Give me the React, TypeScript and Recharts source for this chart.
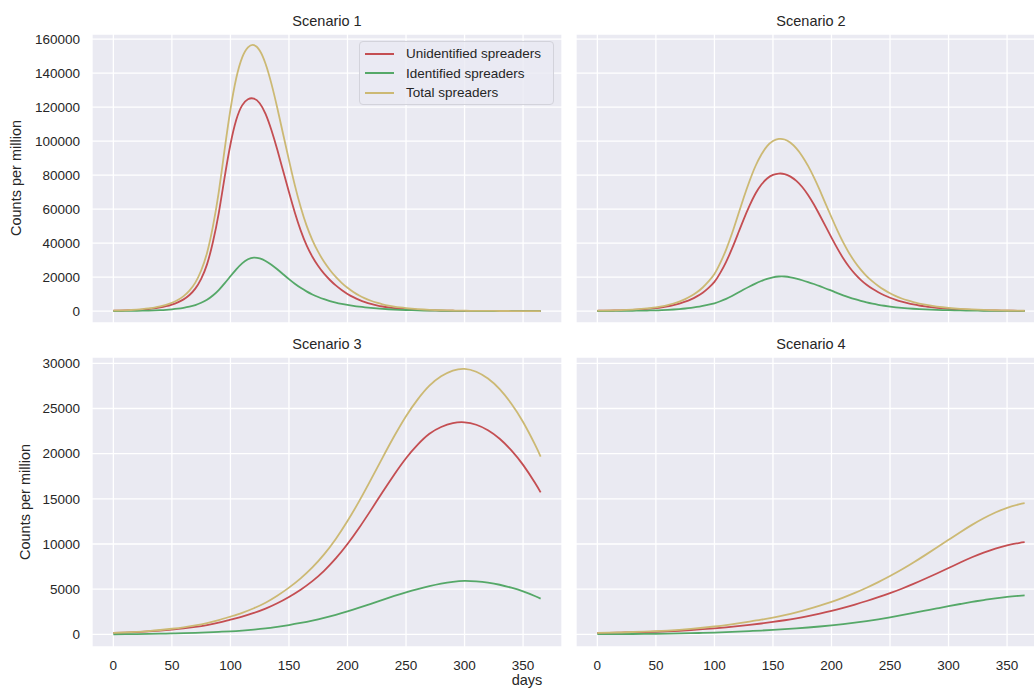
import React from 'react';
import { LineChart, Line, XAxis, YAxis, CartesianGrid, Legend } from 'recharts';

// day grids (5-day steps for the sharp peaks, 10-day steps for the slow ones)
const days5 = [
  0, 5, 10, 15, 20, 25, 30, 35, 40, 45, 50, 55, 60, 65, 70, 75, 80, 85, 90, 95,
  100, 105, 110, 115, 120, 125, 130, 135, 140, 145, 150, 155, 160, 165, 170, 175, 180, 185, 190, 195,
  200, 205, 210, 215, 220, 225, 230, 235, 240, 245, 250, 255, 260, 265, 270, 275, 280, 285, 290, 295,
  300, 305, 310, 315, 320, 325, 330, 335, 340, 345, 350, 355, 360, 365,
];
const days10 = [
  0, 10, 20, 30, 40, 50, 60, 70, 80, 90, 100, 110, 120, 130, 140, 150, 160, 170, 180, 190,
  200, 210, 220, 230, 240, 250, 260, 270, 280, 290, 300, 310, 320, 330, 340, 350, 360, 365,
];

const xTicks = [0, 50, 100, 150, 200, 250, 300, 350];
const yTicksTop = [0, 20000, 40000, 60000, 80000, 100000, 120000, 140000, 160000];
const yTicksBottom = [0, 5000, 10000, 15000, 20000, 25000, 30000];
const seriesNames = ['Unidentified spreaders', 'Identified spreaders', 'Total spreaders'];

// Scenario 1
const s1Unidentified = [
  220, 290, 390, 520, 690, 920, 1230, 1640, 2180, 2900,
  3870, 5150, 6900, 9500, 13200, 19000, 27500, 40500, 57500, 78500,
  98000, 112500, 121000, 124600, 125000, 122300, 116000, 106500, 95000, 82500,
  70000, 58000, 47500, 38800, 32000, 26500, 22000, 18300, 15100, 12400,
  10100, 8200, 6600, 5300, 4250, 3400, 2700, 2150, 1720, 1380,
  1100, 880, 710, 570, 460, 370, 300, 240, 200, 160,
  130, 105, 85, 70, 56, 46, 37, 30, 24, 20,
  16, 13, 11, 9,
];
const s1Identified = [
  40, 60, 85, 120, 165, 225, 310, 420, 570, 770,
  1050, 1420, 1920, 2600, 3550, 4900, 6700, 9200, 12400, 16300,
  20500, 24600, 28100, 30500, 31500, 31000, 29500, 27300, 24600, 21700,
  18800, 16100, 13700, 11600, 9800, 8300, 7000, 5900, 5000, 4250,
  3600, 3050, 2580, 2180, 1840, 1550, 1300, 1090, 910, 760,
  635, 530, 440, 365, 300, 250, 205, 170, 140, 115,
  95, 78, 64, 53, 43, 35, 29, 24, 20, 16,
  13, 11, 9, 7,
];
const s1Total = [
  260, 350, 475, 640, 855, 1145, 1540, 2060, 2750, 3670,
  4920, 6570, 8820, 12100, 16750, 23900, 34200, 49700, 69900, 94800,
  118500, 137100, 149100, 155100, 156500, 153300, 145500, 133800, 119600, 104200,
  88800, 74100, 61200, 50400, 41800, 34800, 29000, 24200, 20100, 16650,
  13700, 11250, 9180, 7480, 6090, 4950, 4000, 3240, 2630, 2140,
  1735, 1410, 1150, 935, 760, 620, 505, 410, 340, 275,
  225, 183, 149, 123, 99, 81, 66, 54, 44, 36,
  29, 24, 20, 16,
];

// Scenario 2
const s2Unidentified = [
  180, 230, 290, 370, 460, 580, 730, 910, 1140, 1430,
  1800, 2250, 2820, 3530, 4420, 5530, 6900, 8650, 10800, 13700,
  17200, 22500, 29000, 36700, 45300, 54000, 62000, 69000, 74300, 78000,
  80100, 80900, 80600, 79100, 76600, 73000, 68300, 62700, 56400, 49800,
  43200, 36900, 31100, 26100, 21900, 18400, 15500, 13100, 11050, 9330,
  7850, 6600, 5550, 4660, 3920, 3290, 2760, 2320, 1950, 1640,
  1380, 1160, 975, 820, 690, 580, 485, 408, 343, 288,
  242, 203, 171, 143,
];
const s2Identified = [
  45, 57, 72, 92, 117, 148, 188, 240, 300, 380,
  450, 580, 740, 940, 1200, 1520, 1930, 2450, 3100, 3800,
  4600, 5800, 7200, 8900, 10800, 12700, 14500, 16200, 17700, 19000,
  19900, 20350, 20350, 19900, 19100, 18150, 17100, 15950, 14700, 13300,
  12000, 10600, 9300, 8100, 7000, 6000, 5100, 4350, 3700, 3150,
  2680, 2250, 1880, 1600, 1370, 1170, 1000, 850, 720, 615,
  525, 445, 380, 325, 275, 235, 200, 170, 145, 123,
  105, 90, 76, 65,
];
const s2Total = [
  225, 287, 362, 462, 577, 728, 918, 1150, 1440, 1810,
  2250, 2830, 3560, 4470, 5620, 7050, 8830, 11100, 13900, 17500,
  21800, 28300, 36200, 45600, 56100, 66700, 76500, 85200, 92000, 97000,
  100000, 101250, 100950, 99000, 95700, 91150, 85400, 78650, 71100, 63100,
  55200, 47500, 40400, 34200, 28900, 24400, 20600, 17450, 14750, 12480,
  10530, 8850, 7430, 6260, 5290, 4460, 3760, 3170, 2670, 2255,
  1905, 1605, 1355, 1145, 965, 815, 685, 578, 488, 411,
  347, 293, 247, 208,
];

// Scenario 3
const s3Unidentified = [
  160, 200, 250, 320, 410, 520, 650, 820, 1030, 1300,
  1630, 1965, 2370, 2850, 3440, 4140, 4940, 5890, 7030, 8400,
  10000, 11800, 13750, 15750, 17700, 19500, 21000, 22200, 22950, 23380,
  23470, 23200, 22590, 21650, 20370, 18760, 16810, 15720,
];
const s3Identified = [
  10, 20, 30, 45, 70, 100, 130, 170, 220, 280,
  340, 420, 520, 650, 830, 1030, 1260, 1520, 1820, 2160,
  2540, 2950, 3380, 3820, 4250, 4650, 5010, 5330, 5610, 5820,
  5920, 5865, 5720, 5490, 5160, 4750, 4245, 3960,
];
const s3Total = [
  170, 220, 280, 365, 480, 620, 780, 990, 1250, 1580,
  1970, 2385, 2890, 3500, 4270, 5170, 6200, 7410, 8850, 10560,
  12540, 14750, 17130, 19570, 21950, 24150, 26010, 27530, 28560, 29200,
  29390, 29065, 28310, 27140, 25530, 23510, 21055, 19680,
];

// Scenario 4
const s4Unidentified = [
  150, 170, 195, 220, 250, 290, 340, 400, 480, 570,
  670, 780, 910, 1050, 1200, 1370, 1560, 1780, 2030, 2300,
  2600, 2940, 3300, 3690, 4110, 4560, 5050, 5580, 6150, 6740,
  7340, 7950, 8530, 9050, 9500, 9860, 10110, 10200,
];
const s4Identified = [
  15, 22, 30, 40, 52, 66, 83, 103, 127, 160,
  200, 245, 300, 360, 420, 490, 570, 660, 760, 870,
  990, 1130, 1290, 1470, 1670, 1890, 2120, 2370, 2620, 2870,
  3120, 3360, 3590, 3800, 3990, 4150, 4270, 4320,
];
const s4Total = [
  165, 192, 225, 260, 302, 356, 423, 503, 607, 730,
  870, 1025, 1210, 1410, 1620, 1860, 2130, 2440, 2790, 3170,
  3590, 4070, 4590, 5160, 5780, 6450, 7170, 7950, 8770, 9610,
  10460, 11310, 12120, 12850, 13490, 14010, 14380, 14520,
];

const RED = '#C44E52';
const GREEN = '#55A868';
const GOLD = '#CCB974';
const TEXT = '#262626';
const FONT = '"Liberation Sans", Arial, sans-serif';

type Row = { day: number; unidentified: number; identified: number; total: number };

const toRows = (days: number[], u: number[], id: number[], t: number[]): Row[] =>
  days.map((day, i) => ({ day, unidentified: u[i], identified: id[i], total: t[i] }));

const renderLegend = (props: any) => {
  const items = [...(props.payload || [])].sort(
    (a: any, b: any) => seriesNames.indexOf(a.value) - seriesNames.indexOf(b.value),
  );
  return (
    <div
      style={{
        width: 195,
        height: 64,
        boxSizing: 'border-box',
        border: '1px solid #d3d3db',
        borderRadius: 4,
        background: 'rgba(234,234,242,0.8)',
        paddingTop: 2,
        fontSize: 13.5,
        color: TEXT,
        fontFamily: FONT,
      }}
    >
      {items.map((entry: any) => (
        <div key={entry.value} style={{ display: 'flex', alignItems: 'center', height: 19.5 }}>
          <span
            style={{
              display: 'inline-block',
              width: 29,
              height: 0,
              borderTop: `2px solid ${entry.color}`,
              marginLeft: 5,
              marginRight: 12,
            }}
          />
          <span>{entry.value}</span>
        </div>
      ))}
    </div>
  );
};

interface PanelProps {
  rows: Row[];
  left: number;
  top: number;
  width: number;
  height: number;
  showX: boolean;
  showY: boolean;
  yDomain: [number, number];
  yTicks: number[];
  legend?: boolean;
}

const Panel: React.FC<PanelProps> = ({ rows, left, top, width, height, showX, showY, yDomain, yTicks, legend }) => (
  <div style={{ position: 'absolute', left, top }}>
    <LineChart width={width} height={height} data={rows} margin={{ top: 34, right: 0, bottom: 0, left: 0 }}>
      <CartesianGrid fill="#EAEAF2" fillOpacity={1} stroke="#ffffff" strokeWidth={1.3} />
      <XAxis
        type="number"
        dataKey="day"
        domain={[-18.25, 383.25]}
        ticks={xTicks}
        interval={0}
        allowDataOverflow
        hide={!showX}
        height={43}
        tickLine={false}
        axisLine={false}
        tickSize={0}
        tickMargin={13}
        tick={{ fill: TEXT, fontSize: 13.5 }}
      />
      <YAxis
        type="number"
        domain={yDomain}
        ticks={yTicks}
        interval={0}
        allowDataOverflow
        hide={!showY}
        width={92}
        tickLine={false}
        axisLine={false}
        tickSize={0}
        tickMargin={12}
        tick={{ fill: TEXT, fontSize: 13.5 }}
      />
      {legend && (
        <Legend
          layout="vertical"
          align="center"
          verticalAlign="middle"
          itemSorter={null as any}
          content={renderLegend}
          wrapperStyle={{ left: 359, top: 41, width: 195 }}
        />
      )}
      <Line type="natural" dataKey="unidentified" name={seriesNames[0]} stroke={RED} strokeWidth={1.8} dot={false} isAnimationActive={false} />
      <Line type="natural" dataKey="identified" name={seriesNames[1]} stroke={GREEN} strokeWidth={1.8} dot={false} isAnimationActive={false} />
      <Line type="natural" dataKey="total" name={seriesNames[2]} stroke={GOLD} strokeWidth={1.8} dot={false} isAnimationActive={false} />
    </LineChart>
  </div>
);

export default function App() {
  const rows1 = toRows(days5, s1Unidentified, s1Identified, s1Total);
  const rows2 = toRows(days5, s2Unidentified, s2Identified, s2Total);
  const rows3 = toRows(days10, s3Unidentified, s3Identified, s3Total);
  const rows4 = toRows(days10, s4Unidentified, s4Identified, s4Total);
  const topDomain: [number, number] = [-7000, 163000];
  const bottomDomain: [number, number] = [-1400, 30700];

  return (
    <div
      style={{
        position: 'absolute',
        left: 0,
        top: 0,
        width: 1034,
        height: 690,
        overflow: 'hidden',
        background: '#ffffff',
        fontFamily: FONT,
      }}
    >
      <Panel rows={rows1} left={0} top={0} width={562} height={323} showX={false} showY yDomain={topDomain} yTicks={yTicksTop} legend />
      <Panel rows={rows2} left={576} top={0} width={470} height={323} showX={false} showY={false} yDomain={topDomain} yTicks={yTicksTop} />
      <Panel rows={rows3} left={0} top={323} width={562} height={367} showX showY yDomain={bottomDomain} yTicks={yTicksBottom} />
      <Panel rows={rows4} left={576} top={323} width={470} height={367} showX showY={false} yDomain={bottomDomain} yTicks={yTicksBottom} />
      <svg
        width={1034}
        height={690}
        style={{ position: 'absolute', left: 0, top: 0, pointerEvents: 'none' }}
        fontFamily={FONT}
        fill={TEXT}
      >
        <text x={327} y={26} fontSize={14.5} textAnchor="middle">Scenario 1</text>
        <text x={811} y={26} fontSize={14.5} textAnchor="middle">Scenario 2</text>
        <text x={327} y={349} fontSize={14.5} textAnchor="middle">Scenario 3</text>
        <text x={811} y={349} fontSize={14.5} textAnchor="middle">Scenario 4</text>
        <text x={21} y={178} fontSize={14.5} textAnchor="middle" transform="rotate(-90 21 178)">Counts per million</text>
        <text x={30} y={502} fontSize={14.5} textAnchor="middle" transform="rotate(-90 30 502)">Counts per million</text>
        <text x={527} y={685} fontSize={14.5} textAnchor="middle">days</text>
      </svg>
    </div>
  );
}
